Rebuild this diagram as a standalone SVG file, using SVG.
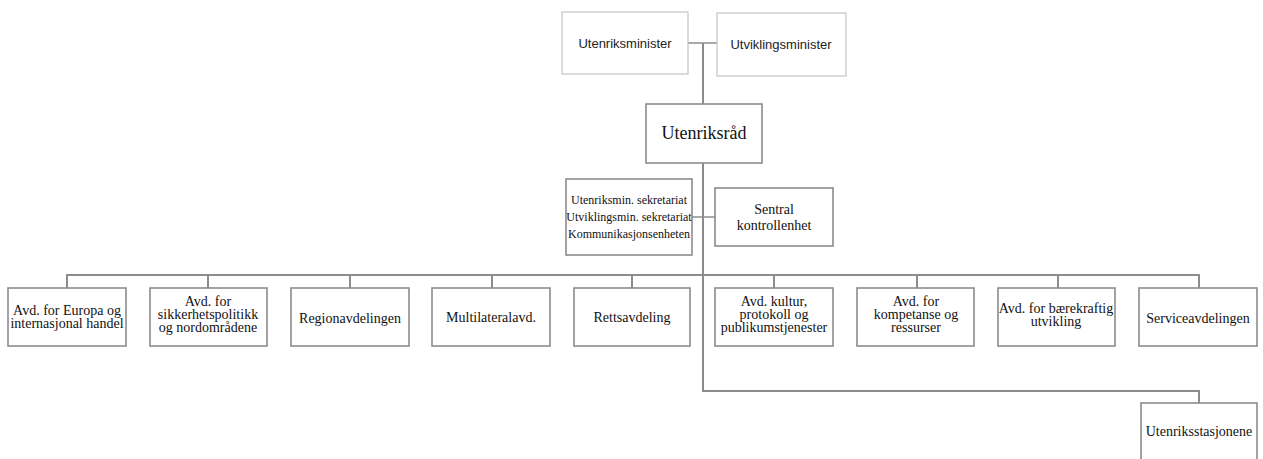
<svg xmlns="http://www.w3.org/2000/svg" width="1263" height="459" viewBox="0 0 1263 459">
  <style>
    .bg { fill: #ffffff; }
    .box { fill: #ffffff; stroke: #8c8c8c; stroke-width: 1.6; }
    .lite { fill: #ffffff; stroke: #c4c4c4; stroke-width: 1.2; }
    .wire { fill: none; stroke: #8c8c8c; stroke-width: 2; }
    .sans { font-family: "Liberation Sans", "Open Sans", sans-serif; font-size: 13px; fill: #222; text-anchor: middle; }
    .serif { font-family: "Liberation Serif", "Times New Roman", serif; font-size: 14px; fill: #111; text-anchor: middle; }
    .small { font-size: 12px; }
    .big { font-size: 18px; }
  </style>
  <rect class="bg" x="0" y="0" width="1263" height="459"/>

  <g id="connectors">
    <!-- ministers to trunk -->
    <path class="wire" d="M688 43 H717" style="stroke-width:1.5"/>
    <path class="wire" d="M703 43 V104"/>
    <!-- trunk down from Utenriksråd to stations -->
    <path class="wire" d="M703 163 V391 H1199 V403"/>
    <!-- staff units -->
    <path class="wire" d="M692 217 H715" style="stroke-width:1.5"/>
    <!-- department bus -->
    <path class="wire" d="M67 288 V275 H1199 V288"/>
    <path class="wire" d="M208 275 V288 M350 275 V288 M492 275 V288 M632 275 V288 M774 275 V288 M917 275 V288 M1058 275 V288"/>
  </g>

  <g id="utenriksminister">
    <rect class="lite" x="562" y="12" width="126" height="62"/>
    <text class="sans" x="625" y="48">Utenriksminister</text>
  </g>
  <g id="utviklingsminister">
    <rect class="lite" x="717" y="13" width="129" height="63"/>
    <text class="sans" x="781" y="49">Utviklingsminister</text>
  </g>

  <g id="utenriksraad">
    <rect class="box" x="646" y="104" width="116" height="59"/>
    <text class="serif big" x="704" y="139">Utenriksråd</text>
  </g>

  <g id="sekretariat">
    <rect class="box" x="566" y="179" width="126" height="76"/>
    <text class="serif small" x="629" y="204">Utenriksmin. sekretariat</text>
    <text class="serif small" x="629" y="221">Utviklingsmin. sekretariat</text>
    <text class="serif small" x="629" y="238">Kommunikasjonsenheten</text>
  </g>
  <g id="sentral-kontrollenhet">
    <rect class="box" x="715" y="188" width="118" height="58"/>
    <text class="serif" x="774" y="214">Sentral</text>
    <text class="serif" x="774" y="230">kontrollenhet</text>
  </g>

  <g id="avd-europa">
    <rect class="box" x="8" y="288" width="118" height="58"/>
    <text class="serif" x="67" y="315">Avd. for Europa og</text>
    <text class="serif" x="67" y="328">internasjonal handel</text>
  </g>
  <g id="avd-sikkerhet">
    <rect class="box" x="150" y="288" width="117" height="58"/>
    <text class="serif" x="208" y="306">Avd. for</text>
    <text class="serif" x="208" y="319">sikkerhetspolitikk</text>
    <text class="serif" x="208" y="332">og nordområdene</text>
  </g>
  <g id="regionavdelingen">
    <rect class="box" x="291" y="288" width="118" height="58"/>
    <text class="serif" x="350" y="323">Regionavdelingen</text>
  </g>
  <g id="multilateralavd">
    <rect class="box" x="432" y="288" width="118" height="58"/>
    <text class="serif" x="491" y="322">Multilateralavd.</text>
  </g>
  <g id="rettsavdeling">
    <rect class="box" x="574" y="288" width="116" height="58"/>
    <text class="serif" x="632" y="322">Rettsavdeling</text>
  </g>
  <g id="avd-kultur">
    <rect class="box" x="715" y="288" width="118" height="58"/>
    <text class="serif" x="774" y="306">Avd. kultur,</text>
    <text class="serif" x="774" y="319">protokoll og</text>
    <text class="serif" x="774" y="332">publikumstjenester</text>
  </g>
  <g id="avd-kompetanse">
    <rect class="box" x="857" y="288" width="117" height="58"/>
    <text class="serif" x="916" y="306">Avd. for</text>
    <text class="serif" x="916" y="319">kompetanse og</text>
    <text class="serif" x="916" y="332">ressurser</text>
  </g>
  <g id="avd-baerekraft">
    <rect class="box" x="998" y="288" width="117" height="58"/>
    <text class="serif" x="1056" y="313">Avd. for bærekraftig</text>
    <text class="serif" x="1056" y="326">utvikling</text>
  </g>
  <g id="serviceavdelingen">
    <rect class="box" x="1139" y="288" width="118" height="58"/>
    <text class="serif" x="1198" y="323">Serviceavdelingen</text>
  </g>

  <g id="utenriksstasjonene">
    <rect class="box" x="1141" y="403" width="116" height="66"/>
    <text class="serif" x="1199" y="436">Utenriksstasjonene</text>
  </g>
</svg>
